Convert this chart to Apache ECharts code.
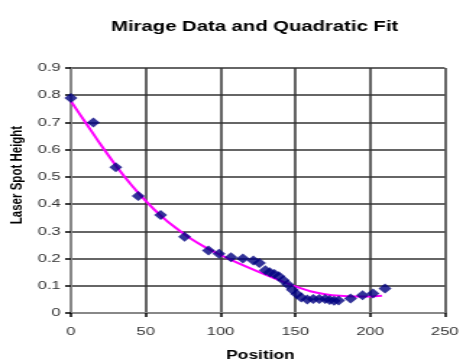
<!DOCTYPE html>
<html>
<head>
<meta charset="utf-8">
<script src="https://cdn.jsdelivr.net/npm/echarts@6/dist/echarts.min.js"></script>
<style>
html,body{margin:0;padding:0;background:#fff;overflow:hidden;}
#wrap{width:463px;height:363px;overflow:hidden;}
/* the reference is horizontally stretched; draw at a narrower width and stretch */
#chart{width:320px;height:363px;transform:scaleX(1.447);transform-origin:0 0;}
</style>
</head>
<body>
<div id="wrap"><div id="chart"></div></div>
<script>
// Measured data (position, laser spot height)
var positions = [0, 15, 30, 45, 60, 76, 92, 99, 107, 115, 122, 126, 130, 133, 136, 139, 142, 145, 148, 151, 154, 158, 162, 166, 170, 173, 176, 179, 187, 195, 202, 210];
var heights   = [0.79, 0.70, 0.535, 0.43, 0.36, 0.28, 0.23, 0.218, 0.205, 0.2, 0.193, 0.184, 0.157, 0.15, 0.143, 0.135, 0.12, 0.105, 0.085, 0.07, 0.057, 0.05, 0.051, 0.051, 0.051, 0.048, 0.045, 0.046, 0.053, 0.065, 0.072, 0.09];
// Quadratic fit curve
var fitX = [0, 10, 20, 30, 40, 50, 60, 70, 80, 90, 100, 110, 120, 130, 140, 150, 160, 170, 180, 190, 200, 208];
var fitY = [0.778, 0.698, 0.618, 0.542, 0.473, 0.412, 0.358, 0.313, 0.274, 0.241, 0.213, 0.188, 0.164, 0.141, 0.119, 0.098, 0.080, 0.069, 0.063, 0.061, 0.061, 0.063];

var titleText = 'Mirage Data and Quadratic Fit';
var xName = 'Position';
var yName = 'Laser Spot Height';

function pairs(xs, ys){ return xs.map(function(x,i){ return [x, ys[i]]; }); }

var chart = echarts.init(document.getElementById('chart'));
chart.setOption({
  animation: false,
  backgroundColor: '#fff',
  title: {
    text: titleText,
    left: 171, top: 15, textAlign: 'center',
    textStyle: {fontFamily: 'Liberation Sans, Arial', fontSize: 14, fontWeight: 'bold', color: '#000'}
  },
  graphic: [
    {type: 'text', x: 180, y: 350, style: {text: xName, font: 'bold 12px "Liberation Sans", Arial', fill: '#000', textAlign: 'center', textVerticalAlign: 'top'}},
    {type: 'text', x: 11.5, y: 175, rotation: Math.PI/2, style: {text: yName, font: 'bold 11.5px "Liberation Sans", Arial', fill: '#000', textAlign: 'center', textVerticalAlign: 'middle'}}
  ],
  grid: {left: 49, right: 10.4, top: 68, bottom: 50},
  xAxis: [{
    type: 'value', min: 0, max: 250, interval: 50,
    axisLine: {show: true, onZero: false, lineStyle: {color: '#000', width: 2}},
    axisTick: {show: true, length: 4, lineStyle: {color: '#000', width: 1.5}},
    axisLabel: {color: '#333', fontFamily: 'Liberation Sans, Arial', fontSize: 11.5, margin: 13},
    splitLine: {show: true, lineStyle: {color: '#333', width: 1.5}}
  },{
    type: 'value', min: 0, max: 250, position: 'top',
    axisLine: {show: true, lineStyle: {color: '#888', width: 2}},
    axisTick: {show: false}, axisLabel: {show: false}, splitLine: {show: false}
  }],
  yAxis: [{
    type: 'value', min: 0, max: 0.9, interval: 0.1,
    axisLine: {show: true, onZero: false, lineStyle: {color: '#000', width: 2}},
    axisTick: {show: true, length: 4, lineStyle: {color: '#000', width: 1.5}},
    axisLabel: {color: '#333', fontFamily: 'Liberation Sans, Arial', fontSize: 11.5, margin: 7,
      formatter: function(v){ return v === 0 ? '0' : v.toFixed(1); }},
    splitLine: {show: true, lineStyle: {color: '#333', width: 1.5}}
  },{
    type: 'value', min: 0, max: 0.9, position: 'right',
    axisLine: {show: true, lineStyle: {color: '#888', width: 2}},
    axisTick: {show: false}, axisLabel: {show: false}, splitLine: {show: false}
  }],
  series: [
    {
      type: 'line', data: pairs(fitX, fitY), smooth: 0.3, showSymbol: false, symbol: 'none',
      lineStyle: {color: '#ff00ff', width: 2}, z: 2
    },
    {
      type: 'scatter', data: pairs(positions, heights), symbol: 'diamond', symbolSize: [9, 10],
      itemStyle: {color: '#000080'}, z: 3
    }
  ]
});
</script>
</body>
</html>
